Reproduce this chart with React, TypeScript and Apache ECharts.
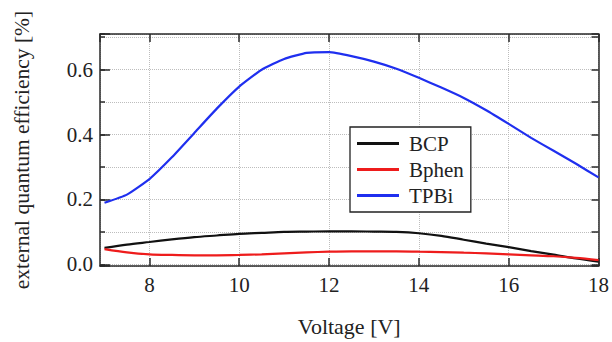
import React, { useEffect, useRef } from "react";
import * as echarts from "echarts";

const voltage = [7, 7.5, 8, 8.5, 9, 9.5, 10, 10.5, 11, 11.5, 12, 12.5, 13, 13.5, 14, 14.5, 15, 15.5, 16, 16.5, 17, 17.5, 18];
const bcp = [0.051, 0.061, 0.069, 0.077, 0.084, 0.089, 0.094, 0.097, 0.1, 0.101, 0.102, 0.102, 0.101, 0.1, 0.096, 0.088, 0.076, 0.064, 0.053, 0.041, 0.03, 0.018, 0.008];
const bphen = [0.047, 0.037, 0.031, 0.029, 0.028, 0.028, 0.029, 0.031, 0.034, 0.037, 0.039, 0.04, 0.04, 0.04, 0.039, 0.038, 0.036, 0.034, 0.031, 0.028, 0.025, 0.02, 0.013];
const tpbi = [0.19, 0.215, 0.263, 0.33, 0.405, 0.48, 0.548, 0.6, 0.633, 0.652, 0.654, 0.642, 0.625, 0.603, 0.575, 0.545, 0.513, 0.475, 0.433, 0.39, 0.35, 0.31, 0.268];
const seriesNames = ["BCP", "Bphen", "TPBi"];
const xTicks = [8, 10, 12, 14, 16, 18];
const yTicks = [0.0, 0.2, 0.4, 0.6];

const FONT = "Liberation Serif";
const AXIS_COLOR = "#2a2a2a";
const TEXT_COLOR = "#222";

const pair = (ys: number[]) => voltage.map((v, i) => [v, ys[i]]);

export default function App() {
  const ref = useRef<HTMLDivElement>(null);
  useEffect(() => {
    if (!ref.current) return;
    const chart = echarts.init(ref.current, undefined, { renderer: "svg" });
    const axisLine = { show: true, onZero: false, lineStyle: { color: AXIS_COLOR, width: 1.5 } };
    const dotted = { show: true, lineStyle: { color: "#bdbdbd", type: "dotted" as const, width: 1 } };
    const xFmt = (v: number) => (xTicks.some((t) => Math.abs(t - v) < 1e-6) ? String(v) : "");
    const yFmt = (v: number) => (yTicks.some((t) => Math.abs(t - v) < 1e-6) ? v.toFixed(1) : "");
    const xBase = { type: "value", min: 6.9, max: 18, splitNumber: 5 };
    const yBase = { type: "value", min: -0.005, max: 0.71 };
    chart.setOption({
      animation: false,
      backgroundColor: "#fff",
      textStyle: { fontFamily: FONT },
      grid: { left: 100, right: 12, top: 34, bottom: 74 },
      legend: {
        data: seriesNames,
        orient: "vertical",
        left: 350,
        top: 127,
        padding: [6, 7, 6, 7],
        itemGap: 5,
        itemWidth: 42,
        itemHeight: 3,
        icon: "rect",
        borderColor: "#222",
        borderWidth: 1.3,
        borderRadius: 0,
        backgroundColor: "#fff",
        textStyle: { fontFamily: FONT, fontSize: 21, color: TEXT_COLOR, padding: [0, 0, 0, 5], lineHeight: 20 },
      },
      xAxis: [
        {
          ...xBase,
          position: "bottom",
          axisLine,
          axisTick: { show: true, inside: true, length: 8, lineStyle: { color: AXIS_COLOR, width: 1.5 } },
          axisLabel: { formatter: xFmt, fontFamily: FONT, fontSize: 21, color: TEXT_COLOR, margin: 8, showMinLabel: false },
          splitLine: dotted,
          name: "Voltage [V]",
          nameLocation: "middle",
          nameGap: 49,
          nameTextStyle: { fontFamily: FONT, fontSize: 22, color: TEXT_COLOR },
        },
        {
          ...xBase,
          position: "top",
          axisLine,
          axisTick: { show: true, inside: true, length: 8, lineStyle: { color: AXIS_COLOR, width: 1.5 } },
          axisLabel: { show: false },
          splitLine: { show: false },
        },
      ],
      yAxis: [
        {
          ...yBase,
          splitNumber: 4,
          position: "left",
          axisLine,
          axisTick: { show: true, inside: true, length: 10, lineStyle: { color: AXIS_COLOR, width: 1.5 } },
          axisLabel: { formatter: yFmt, fontFamily: FONT, fontSize: 21, color: TEXT_COLOR, margin: 7 },
          splitLine: { show: false },
          name: "external quantum efficiency [%]",
          nameLocation: "middle",
          nameGap: 67,
          nameTextStyle: { fontFamily: FONT, fontSize: 21.5, color: TEXT_COLOR },
        },
        {
          ...yBase,
          splitNumber: 7,
          position: "right",
          axisLine,
          axisTick: { show: true, inside: true, length: 7, lineStyle: { color: AXIS_COLOR, width: 1.5 } },
          axisLabel: { show: false },
          splitLine: { show: false },
        },
        {
          ...yBase,
          splitNumber: 7,
          position: "left",
          offset: 0,
          axisLine: { show: false, onZero: false },
          axisTick: { show: true, inside: true, length: 5, lineStyle: { color: AXIS_COLOR, width: 1.5 } },
          axisLabel: { show: false },
          splitLine: dotted,
        },
      ],
      series: [
        {
          name: seriesNames[0],
          type: "line",
          data: pair(bcp),
          smooth: 0.3,
          symbol: "none",
          xAxisIndex: 0,
          yAxisIndex: 0,
          lineStyle: { color: "#111", width: 2.2 },
          itemStyle: { color: "#111" },
          z: 3,
        },
        {
          name: seriesNames[1],
          type: "line",
          data: pair(bphen),
          smooth: 0.3,
          symbol: "none",
          xAxisIndex: 0,
          yAxisIndex: 0,
          lineStyle: { color: "#ee1c1c", width: 2.2 },
          itemStyle: { color: "#ee1c1c" },
          z: 4,
        },
        {
          name: seriesNames[2],
          type: "line",
          data: pair(tpbi),
          smooth: 0.15,
          symbol: "none",
          xAxisIndex: 0,
          yAxisIndex: 0,
          lineStyle: { color: "#1f2fef", width: 2.2 },
          itemStyle: { color: "#1f2fef" },
          z: 5,
        },
      ],
    });
    return () => chart.dispose();
  }, []);
  return (
    <div
      ref={ref}
      style={{ position: "fixed", left: 0, top: 0, width: 612, height: 342, background: "#fff" }}
    />
  );
}
